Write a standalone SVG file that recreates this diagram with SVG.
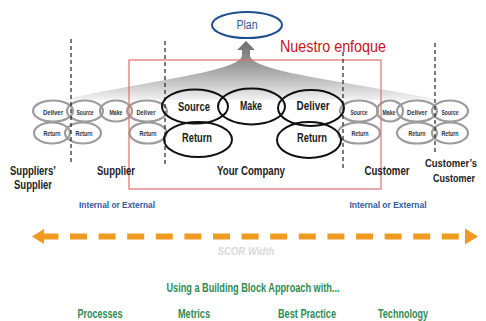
<svg xmlns="http://www.w3.org/2000/svg" width="486" height="321" viewBox="0 0 486 321">
<defs>
<linearGradient id="fan" x1="0" y1="41" x2="0" y2="100" gradientUnits="userSpaceOnUse">
<stop offset="0" stop-color="#6a6a6a"/>
<stop offset="0.45" stop-color="#a0a0a0"/>
<stop offset="1" stop-color="#f2f2f2"/>
</linearGradient>
<style>
text{font-family:"Liberation Sans",Arial,sans-serif;text-anchor:middle}
.sm{fill:none;stroke:#9c9c9c;stroke-width:2.2}
.big{fill:none;stroke:#111;stroke-width:2}
.st{font-size:7px;font-weight:bold;fill:#333}
.bt{font-size:13px;font-weight:bold;fill:#1a1a1a}
.lb{font-size:12.5px;font-weight:bold;fill:#222}
.lbs{font-size:11px;font-weight:bold;fill:#222}
.ie{font-size:9px;font-weight:bold;fill:#2f5b9b}
.gr{font-size:12px;font-weight:bold;fill:#2e8b55}
.dv{stroke:#222;stroke-width:1.2;stroke-dasharray:4 3}
</style>
</defs>
<rect width="486" height="321" fill="#fff"/>
<g id="fan-arrow">
<path d="M246 41 L255 50 L250 50 L250 56 C254 72 340 80 440 100 L62 100 C150 80 238 72 242 56 L242 50 L237 50 Z" fill="url(#fan)"/>
</g>
<g id="plan">
<ellipse cx="247" cy="25" rx="35" ry="13" fill="#fff" stroke="#1f4e8c" stroke-width="2"/>
<text x="247" y="29" font-size="12" fill="#2a5590" textLength="21" lengthAdjust="spacingAndGlyphs">Plan</text>
</g>
<g id="title">
<text x="333" y="52" font-size="17" fill="#c8141e" textLength="106" lengthAdjust="spacingAndGlyphs">Nuestro enfoque</text>
</g>
<g id="suppliers-supplier-blocks">
<ellipse class="sm" cx="53" cy="111" rx="20" ry="10.5"/>
<ellipse class="sm" cx="85" cy="111" rx="18" ry="10.5"/>
<ellipse class="sm" cx="52" cy="133" rx="18" ry="10.5"/>
<ellipse class="sm" cx="83" cy="133" rx="18" ry="10.5"/>
<text class="st" x="53" y="115" textLength="20" lengthAdjust="spacingAndGlyphs">Deliver</text>
<text class="st" x="85" y="115" textLength="17" lengthAdjust="spacingAndGlyphs">Source</text>
<text class="st" x="52" y="136" textLength="17" lengthAdjust="spacingAndGlyphs">Return</text>
<text class="st" x="84" y="136" textLength="17" lengthAdjust="spacingAndGlyphs">Return</text>
</g>
<g id="supplier-blocks">
<ellipse class="sm" cx="116" cy="111" rx="16" ry="10.5"/>
<ellipse class="sm" cx="147" cy="111" rx="20" ry="10.5"/>
<ellipse class="sm" cx="148" cy="133" rx="18.5" ry="10.5"/>
<text class="st" x="116" y="115" textLength="13" lengthAdjust="spacingAndGlyphs">Make</text>
<text class="st" x="146" y="115" textLength="19" lengthAdjust="spacingAndGlyphs">Deliver</text>
<text class="st" x="148" y="136" textLength="17" lengthAdjust="spacingAndGlyphs">Return</text>
</g>
<g id="customer-blocks">
<ellipse class="sm" cx="359" cy="111" rx="19" ry="10.5"/>
<ellipse class="sm" cx="390" cy="111" rx="13" ry="10.5"/>
<ellipse class="sm" cx="417" cy="111" rx="20" ry="10.5"/>
<ellipse class="sm" cx="359" cy="133" rx="21" ry="10.5"/>
<ellipse class="sm" cx="417" cy="133" rx="20" ry="10.5"/>
<text class="st" x="359" y="115" textLength="17" lengthAdjust="spacingAndGlyphs">Source</text>
<text class="st" x="389" y="115" textLength="13" lengthAdjust="spacingAndGlyphs">Make</text>
<text class="st" x="417" y="115" textLength="20" lengthAdjust="spacingAndGlyphs">Deliver</text>
<text class="st" x="360" y="136" textLength="17" lengthAdjust="spacingAndGlyphs">Return</text>
<text class="st" x="417" y="136" textLength="17" lengthAdjust="spacingAndGlyphs">Return</text>
</g>
<g id="customers-customer-blocks">
<ellipse class="sm" cx="450" cy="111" rx="18" ry="10.5"/>
<ellipse class="sm" cx="450" cy="133" rx="18" ry="10.5"/>
<text class="st" x="450" y="115" textLength="17" lengthAdjust="spacingAndGlyphs">Source</text>
<text class="st" x="450" y="136" textLength="17" lengthAdjust="spacingAndGlyphs">Return</text>
</g>
<g id="your-company-blocks">
<ellipse class="big" cx="195" cy="106.5" rx="33" ry="17"/>
<ellipse class="big" cx="251.5" cy="106.5" rx="33.5" ry="18"/>
<ellipse class="big" cx="311" cy="108" rx="33" ry="18"/>
<ellipse class="big" cx="198" cy="139.5" rx="34" ry="17.5"/>
<ellipse class="big" cx="309" cy="140" rx="32" ry="18"/>
<text class="bt" x="194" y="111" textLength="32" lengthAdjust="spacingAndGlyphs">Source</text>
<text class="bt" x="251" y="110" textLength="22" lengthAdjust="spacingAndGlyphs">Make</text>
<text class="bt" x="313" y="110" textLength="33" lengthAdjust="spacingAndGlyphs">Deliver</text>
<text class="bt" x="197" y="142" textLength="30" lengthAdjust="spacingAndGlyphs">Return</text>
<text class="bt" x="312" y="142" textLength="30" lengthAdjust="spacingAndGlyphs">Return</text>
</g>
<g id="focus-box">
<rect x="129" y="60" width="252" height="129" fill="none" stroke="#e07070" stroke-width="1.2"/>
</g>
<g id="connectors">
<line class="dv" x1="71" y1="39" x2="71" y2="165"/>
<line class="dv" x1="165" y1="41" x2="165" y2="167"/>
<line class="dv" x1="343" y1="52" x2="343" y2="171"/>
<line class="dv" x1="435" y1="43" x2="435" y2="154"/>
<line x1="41.4" y1="236.5" x2="459" y2="236.5" stroke="#f09a22" stroke-width="6" stroke-dasharray="17 11.6"/>
<polygon points="32,236.5 44,229 44,244" fill="#f09a22"/>
<polygon points="478,236.5 465,228.5 465,244.5" fill="#f09a22"/>
</g>
<g id="labels">
<text class="lb" x="33" y="175" textLength="46" lengthAdjust="spacingAndGlyphs">Suppliers’</text>
<text class="lb" x="33" y="189" textLength="38" lengthAdjust="spacingAndGlyphs">Supplier</text>
<text class="lb" x="116" y="175" textLength="38" lengthAdjust="spacingAndGlyphs">Supplier</text>
<text class="lb" x="251" y="175" textLength="68" lengthAdjust="spacingAndGlyphs">Your Company</text>
<text class="lb" x="387" y="175" textLength="45" lengthAdjust="spacingAndGlyphs">Customer</text>
<text class="lbs" x="451" y="167" font-size="10.5" textLength="52" lengthAdjust="spacingAndGlyphs">Customer’s</text>
<text class="lbs" x="454" y="182" textLength="42" lengthAdjust="spacingAndGlyphs">Customer</text>
<text class="ie" x="117" y="208" textLength="76" lengthAdjust="spacingAndGlyphs">Internal or External</text>
<text class="ie" x="388" y="208" textLength="77" lengthAdjust="spacingAndGlyphs">Internal or External</text>
<text x="246" y="255" font-size="10" font-style="italic" font-weight="bold" fill="#d9d9d9" textLength="57" lengthAdjust="spacingAndGlyphs">SCOR Width</text>
<text class="gr" x="253" y="292" textLength="173" lengthAdjust="spacingAndGlyphs">Using a Building Block Approach with...</text>
<text class="gr" x="100" y="318" textLength="45" lengthAdjust="spacingAndGlyphs">Processes</text>
<text class="gr" x="194" y="318" textLength="32" lengthAdjust="spacingAndGlyphs">Metrics</text>
<text class="gr" x="307" y="318" textLength="58" lengthAdjust="spacingAndGlyphs">Best Practice</text>
<text class="gr" x="403" y="318" textLength="50" lengthAdjust="spacingAndGlyphs">Technology</text>
</g>
</svg>
